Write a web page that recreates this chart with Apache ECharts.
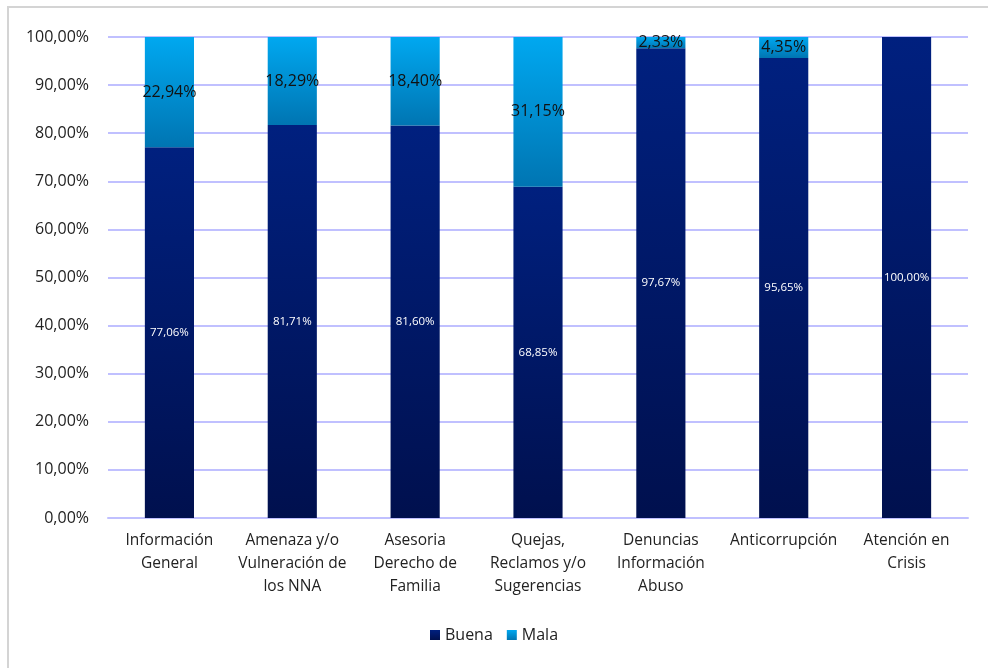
<!DOCTYPE html>
<html>
<head>
<meta charset="utf-8">
<script src="https://cdn.jsdelivr.net/npm/echarts@6/dist/echarts.min.js"></script>
<style>
  html, body { margin: 0; padding: 0; background: #fff; }
  #chart { width: 988px; height: 668px; }
</style>
</head>
<body>
<div id="chart"></div>
<script>
// Categories (line breaks as shown under the axis)
const categories = [
  'Información\nGeneral',
  'Amenaza y/o\nVulneración de\nlos NNA',
  'Asesoria\nDerecho de\nFamilia',
  'Quejas,\nReclamos y/o\nSugerencias',
  'Denuncias\nInformación\nAbuso',
  'Anticorrupción',
  'Atención en\nCrisis'
];
// Share of ratings per service (%)
const buena = [77.06, 81.71, 81.60, 68.85, 97.67, 95.65, 100.00];
const mala  = [22.94, 18.29, 18.40, 31.15, 2.33, 4.35, 0];
// Y axis ticks
const yMin = 0, yMax = 100, yStep = 10;

const fontFam = '"Open Sans", "Noto Sans", sans-serif';
const pct = v => v.toFixed(2).replace('.', ',') + '%';

const chart = echarts.init(document.getElementById('chart'), null, { renderer: 'canvas' });

chart.setOption({
  backgroundColor: '#ffffff',
  animation: false,
  graphic: [{
    type: 'rect',
    shape: { x: 8, y: 7, width: 1200, height: 900 },
    style: { fill: 'none', stroke: '#d4d4d4', lineWidth: 2 },
    silent: true,
    z: -1
  }],
  grid: { left: 108, right: 20, top: 37, bottom: 150, containLabel: false },
  legend: {
    bottom: 20,
    left: 'center',
    itemWidth: 10,
    itemHeight: 10,
    itemGap: 14,
    icon: 'rect',
    textStyle: { fontFamily: fontFam, fontSize: 16, color: '#222' },
    data: ['Buena', 'Mala']
  },
  xAxis: {
    type: 'category',
    data: categories,
    axisLine: { show: true, lineStyle: { color: '#c0c0ff', width: 2 } },
    axisTick: { show: false },
    axisLabel: {
      interval: 0,
      margin: 11,
      fontFamily: fontFam,
      fontSize: 15.5,
      lineHeight: 23,
      color: '#222',
      align: 'center'
    }
  },
  yAxis: {
    type: 'value',
    min: yMin,
    max: yMax,
    interval: yStep,
    axisLine: { show: false },
    axisTick: { show: false },
    splitLine: { lineStyle: { color: '#c0c0ff', width: 2 } },
    axisLabel: {
      margin: 19,
      fontFamily: fontFam,
      fontSize: 16,
      color: '#222',
      formatter: v => pct(v)
    }
  },
  series: [
    {
      name: 'Buena',
      type: 'bar',
      stack: 'total',
      barWidth: '40%',
      data: buena,
      itemStyle: {
        color: new echarts.graphic.LinearGradient(0, 0, 0, 1, [
          { offset: 0, color: '#00207f' },
          { offset: 1, color: '#00104e' }
        ])
      },
      label: {
        show: true,
        position: 'inside',
        fontFamily: fontFam,
        fontSize: 11.5,
        color: '#ffffff',
        formatter: p => pct(p.value)
      }
    },
    {
      name: 'Mala',
      type: 'bar',
      stack: 'total',
      barWidth: '40%',
      data: mala,
      itemStyle: {
        color: new echarts.graphic.LinearGradient(0, 0, 0, 1, [
          { offset: 0, color: '#00a8f0' },
          { offset: 1, color: '#0075b2' }
        ])
      },
      label: {
        show: true,
        position: 'inside',
        fontFamily: fontFam,
        fontSize: 16,
        color: '#111',
        formatter: p => (p.value > 0 ? pct(p.value) : '')
      }
    }
  ]
});
</script>
</body>
</html>
